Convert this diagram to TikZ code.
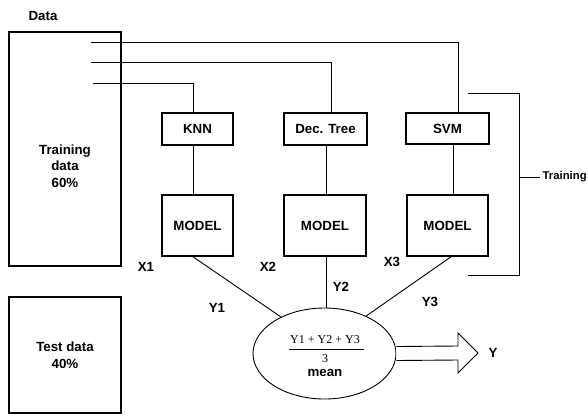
\documentclass[tikz,border=0pt]{standalone}
\usepackage{fontspec}
\setmainfont{Liberation Sans}
\newfontfamily\serifnum{Liberation Serif}
\usetikzlibrary{shapes.geometric}
\begin{document}
\begin{tikzpicture}[x=1pt,y=-1pt,
  box/.style={draw,line width=1.6pt,rectangle,inner sep=0pt,font=\fontsize{13.3}{16.5}\selectfont\bfseries,align=center},
  lbl/.style={font=\fontsize{13.3}{16.5}\selectfont\bfseries,inner sep=0pt,align=center},
  conn/.style={line width=0.9pt}
]
\useasboundingbox (0,0) rectangle (588,415);
% data boxes
\node[lbl] (data) at (43,16) {Data};
\node[box,minimum width=112pt,minimum height=234pt] (train) at (65,149) {};
\node[lbl] (traintxt) at (65,166) {Training\\data\\60\%};
\node[box,minimum width=112pt,minimum height=116pt] (test) at (65,355) {Test data\\40\%};
% classifiers
\node[box,minimum width=71pt,minimum height=32pt] (knn) at (197.5,129) {KNN};
\node[box,minimum width=83pt,minimum height=32pt] (dt) at (325.5,129) {Dec. Tree};
\node[box,minimum width=83pt,minimum height=31pt] (svm) at (447.5,128.5) {SVM};
% models
\node[box,minimum width=71pt,minimum height=61pt] (m1) at (197.5,225.5) {MODEL};
\node[box,minimum width=82pt,minimum height=61pt] (m2) at (325,225.5) {MODEL};
\node[box,minimum width=81pt,minimum height=61pt] (m3) at (447.5,225.5) {MODEL};
% feeds from training data
\coordinate (f1) at (91,42);
\coordinate (f2) at (91,62);
\coordinate (f3) at (93,83);
\draw[conn] (f1) -| ([xshift=10.5pt]svm.north);
\draw[conn] (f2) -| ([xshift=5.5pt]dt.north);
\draw[conn] (f3) -| ([xshift=-4.5pt]knn.north);
% classifier to model
\draw[conn] ([xshift=-4.5pt]knn.south) -- ([xshift=-4.5pt]m1.north);
\draw[conn] ([xshift=0.5pt]dt.south) -- ([xshift=1pt]m2.north);
\draw[conn] ([xshift=5.5pt]svm.south) -- ([xshift=5.5pt]m3.north);
% ellipse
\node[draw,ellipse,line width=0.9pt,minimum width=143pt,minimum height=91pt,inner sep=0pt] (ell) at (324.5,353.5) {};
\node[inner sep=0pt,font=\serifnum\fontsize{12}{14}\selectfont] (num) at (325,340) {Y1 + Y2 + Y3};
\draw[line width=0.7pt] (289,349) -- (364,349);
\node[inner sep=0pt,font=\serifnum\fontsize{12}{14}\selectfont] (den) at (325,359) {3};
\node[lbl] (mean) at (325,373) {mean};
% model to ellipse
\coordinate (m2s) at ([xshift=1pt]m2.south);
\draw[conn] ([xshift=-4.5pt]m1.south) -- (ell.140);
\draw[conn] (m2s) -- (m2s |- ell.north);
\draw[conn] ([xshift=3.5pt]m3.south) -- (ell.42);
% labels
\node[lbl] (x1) at (146,267) {X1};
\node[lbl] (x2) at (268,267) {X2};
\node[lbl] (x3) at (392,262) {X3};
\node[lbl] (y1) at (217,308) {Y1};
\node[lbl] (y2) at (341,287) {Y2};
\node[lbl] (y3) at (430,302) {Y3};
% output arrow
\coordinate (ae) at (ell.east);
\draw[conn,fill=white] ([yshift=7pt]ae) -- (458,346) -- (458,333) -- (478,353) -- (458,373) -- (458,360) -- ([yshift=-7pt]ae);
\node[lbl] (y) at (493,353) {Y};
% training bracket
\coordinate (bt) at (468,93);
\coordinate (bb) at (468,275);
\coordinate (bm) at (519,177);
\draw[conn] (bt) -- (519,93) -- (519,275) -- (bb);
\draw[conn] (bm) -- (540,177);
\node[lbl,anchor=west,font=\fontsize{11.3}{14}\selectfont\bfseries] (trainlbl) at (542.5,177) {Training};
\end{tikzpicture}
\end{document}
